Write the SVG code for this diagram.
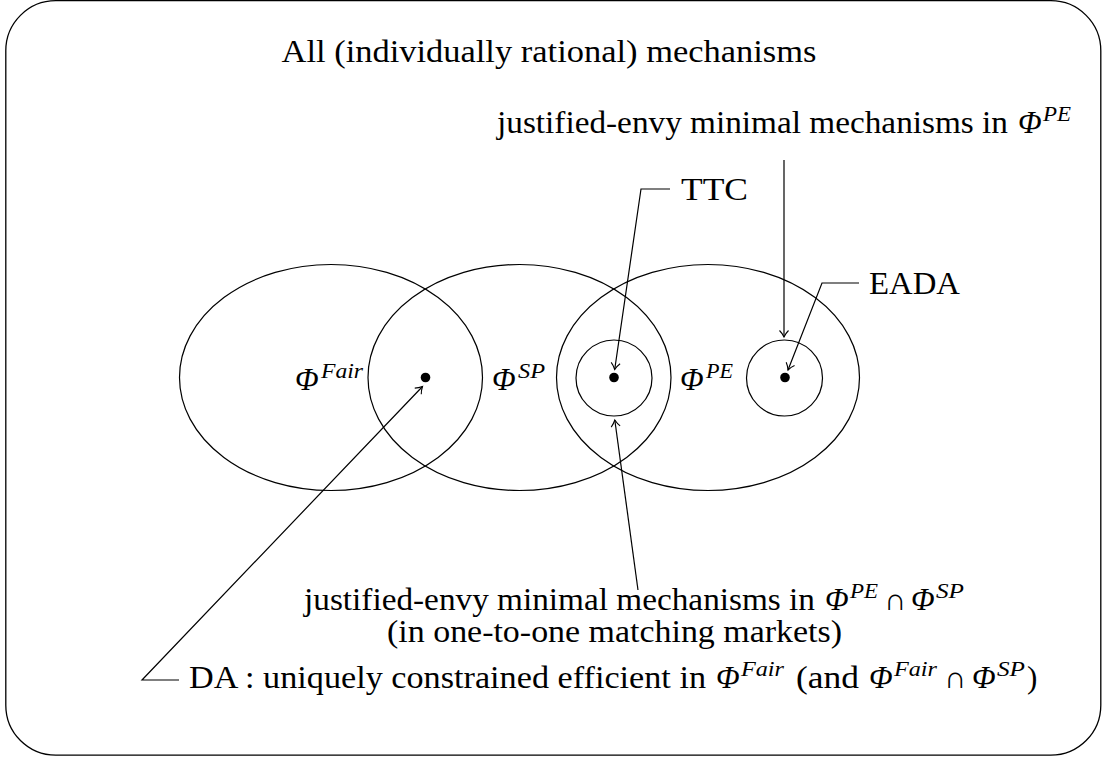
<svg xmlns="http://www.w3.org/2000/svg" width="1102" height="757" viewBox="0 0 1102 757">
<style>
.t{font-family:"Liberation Serif","DejaVu Serif",serif;font-size:31px;fill:#000}
.m{font-family:"Liberation Serif","DejaVu Serif",serif;font-size:31px;font-style:italic;fill:#000}
.s{font-family:"Liberation Serif","DejaVu Serif",serif;font-size:22px;font-style:italic;fill:#000}
.ln{fill:none;stroke:#000;stroke-width:1.2}
.ar{fill:none;stroke:#000;stroke-width:1.2;marker-end:url(#to)}
</style>
<defs>
<marker id="to" markerUnits="userSpaceOnUse" markerWidth="14" markerHeight="14" refX="0" refY="0" orient="auto" overflow="visible">
<path d="M-6.5,-4.5 C-4,-2 -1.5,-0.7 0,0 C-1.5,0.7 -4,2 -6.5,4.5" fill="none" stroke="#000" stroke-width="1.1"/>
</marker>
</defs>
<rect x="5.8" y="0.7" width="1095" height="754.5" rx="50" ry="50" fill="#fff" stroke="#000" stroke-width="1.3"/>
<g id="title"><text class="t" x="549" y="62" text-anchor="middle" textLength="535" lengthAdjust="spacingAndGlyphs">All (individually rational) mechanisms</text></g>
<g id="set-fair"><ellipse class="ln" cx="331" cy="377.5" rx="151.5" ry="113"/>
<text class="m" x="295" y="390">Φ</text><text class="s" x="321" y="378" textLength="42" lengthAdjust="spacingAndGlyphs">Fair</text></g>
<g id="set-sp"><ellipse class="ln" cx="519.5" cy="377.5" rx="151.5" ry="113"/>
<text class="m" x="492" y="390">Φ</text><text class="s" x="518" y="378" textLength="27" lengthAdjust="spacingAndGlyphs">SP</text></g>
<g id="set-pe"><ellipse class="ln" cx="708" cy="377.5" rx="151.5" ry="113"/>
<text class="m" x="680" y="390">Φ</text><text class="s" x="706" y="378" textLength="27" lengthAdjust="spacingAndGlyphs">PE</text></g>
<g id="ttc-set"><circle class="ln" cx="614" cy="378" r="38"/></g>
<g id="eada-set"><circle class="ln" cx="784.5" cy="378" r="38"/></g>
<g id="da-dot"><circle cx="425.5" cy="377.5" r="4.8" fill="#000"/></g>
<g id="ttc-dot"><circle cx="614" cy="377.5" r="4.8" fill="#000"/></g>
<g id="eada-dot"><circle cx="785" cy="377.5" r="4.8" fill="#000"/></g>
<g id="label-je-pe"><text class="t" x="497" y="133" textLength="511" lengthAdjust="spacingAndGlyphs">justified-envy minimal mechanisms in</text>
<text class="m" x="1018" y="133">Φ</text><text class="s" x="1043" y="121" textLength="28" lengthAdjust="spacingAndGlyphs">PE</text></g>
<g id="label-ttc"><text class="t" x="681" y="200" textLength="67" lengthAdjust="spacingAndGlyphs">TTC</text></g>
<g id="label-eada"><text class="t" x="869" y="294" textLength="91" lengthAdjust="spacingAndGlyphs">EADA</text></g>
<g id="label-je-pesp"><text class="t" x="304" y="610" textLength="511" lengthAdjust="spacingAndGlyphs">justified-envy minimal mechanisms in</text>
<text class="m" x="825" y="610">Φ</text><text class="s" x="850" y="598" textLength="28" lengthAdjust="spacingAndGlyphs">PE</text>
<text class="t" x="884" y="610">∩</text>
<text class="m" x="911" y="610">Φ</text><text class="s" x="936" y="598" textLength="28" lengthAdjust="spacingAndGlyphs">SP</text>
<text class="t" x="387" y="642" textLength="455" lengthAdjust="spacingAndGlyphs">(in one-to-one matching markets)</text></g>
<g id="label-da"><text class="t" x="189" y="688" textLength="517" lengthAdjust="spacingAndGlyphs">DA : uniquely constrained efficient in</text>
<text class="m" x="716" y="688">Φ</text><text class="s" x="741" y="676" textLength="43" lengthAdjust="spacingAndGlyphs">Fair</text>
<text class="t" x="796" y="688" textLength="63" lengthAdjust="spacingAndGlyphs">(and</text>
<text class="m" x="869" y="688">Φ</text><text class="s" x="894" y="676" textLength="43" lengthAdjust="spacingAndGlyphs">Fair</text>
<text class="t" x="944" y="688">∩</text>
<text class="m" x="972" y="688">Φ</text><text class="s" x="997" y="676" textLength="28" lengthAdjust="spacingAndGlyphs">SP</text>
<text class="t" x="1027" y="688">)</text></g>
<g id="connectors">
<path class="ar" d="M784,160 L784,337"/>
<path class="ar" d="M670,189 L641,189 L614.7,369.5"/>
<path class="ar" d="M859,283 L822,283 L788,370"/>
<path class="ar" d="M638,590 L614.8,420"/>
<path class="ar" d="M179,680 L142,680 L422.5,386.5"/>
</g>
</svg>
